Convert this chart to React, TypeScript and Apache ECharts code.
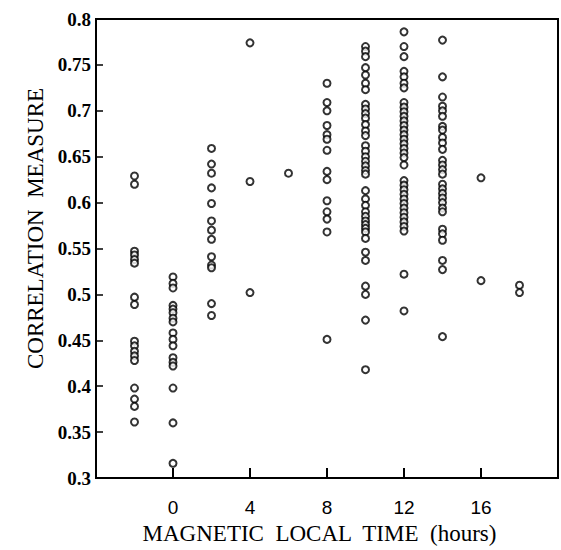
import React, { useEffect, useRef } from "react";
import * as echarts from "echarts";

const xTicks = [0, 4, 8, 12, 16];

const mltM2 = [0.629, 0.62, 0.547, 0.543, 0.538, 0.534, 0.497, 0.489, 0.449, 0.444, 0.438, 0.433, 0.428, 0.398, 0.386, 0.378, 0.361];
const mlt0 = [0.519, 0.512, 0.507, 0.488, 0.484, 0.48, 0.474, 0.47, 0.458, 0.451, 0.444, 0.431, 0.426, 0.422, 0.398, 0.36, 0.316];
const mlt2 = [0.659, 0.642, 0.632, 0.616, 0.599, 0.58, 0.57, 0.56, 0.541, 0.532, 0.529, 0.49, 0.477];
const mlt4 = [0.774, 0.623, 0.502];
const mlt6 = [0.632];
const mlt8 = [0.73, 0.709, 0.7, 0.684, 0.674, 0.669, 0.657, 0.634, 0.625, 0.602, 0.59, 0.582, 0.568, 0.451];
const mlt10 = [0.77, 0.765, 0.759, 0.747, 0.739, 0.73, 0.723, 0.707, 0.702, 0.697, 0.692, 0.685, 0.678, 0.673, 0.662, 0.656, 0.65, 0.645, 0.64, 0.635, 0.631, 0.613, 0.604, 0.597, 0.59, 0.585, 0.58, 0.576, 0.572, 0.568, 0.561, 0.546, 0.537, 0.509, 0.5, 0.472, 0.418];
const mlt12 = [0.786, 0.77, 0.759, 0.743, 0.737, 0.73, 0.725, 0.709, 0.704, 0.699, 0.694, 0.689, 0.684, 0.679, 0.674, 0.669, 0.664, 0.659, 0.654, 0.649, 0.641, 0.624, 0.619, 0.614, 0.609, 0.604, 0.599, 0.594, 0.589, 0.584, 0.579, 0.574, 0.569, 0.522, 0.482];
const mlt14 = [0.777, 0.737, 0.715, 0.705, 0.7, 0.694, 0.683, 0.679, 0.671, 0.665, 0.658, 0.646, 0.641, 0.636, 0.631, 0.62, 0.615, 0.61, 0.605, 0.6, 0.594, 0.59, 0.571, 0.566, 0.559, 0.537, 0.527, 0.454];
const mlt16 = [0.627, 0.515];
const mlt18 = [0.51, 0.502];

const columns: [number, number[]][] = [
  [-2, mltM2],
  [0, mlt0],
  [2, mlt2],
  [4, mlt4],
  [6, mlt6],
  [8, mlt8],
  [10, mlt10],
  [12, mlt12],
  [14, mlt14],
  [16, mlt16],
  [18, mlt18],
];

export default function App() {
  const ref = useRef<HTMLDivElement>(null);
  useEffect(() => {
    if (!ref.current) return;
    const chart = echarts.init(ref.current, undefined, { renderer: "svg" });
    const points: number[][] = [];
    columns.forEach(([x, ys]) => ys.forEach((y) => points.push([x, y])));
    chart.setOption({
      animation: false,
      backgroundColor: "#ffffff",
      grid: {
        left: 96,
        right: 2,
        top: 19,
        bottom: 69,
        show: true,
        borderColor: "#000",
        borderWidth: 2,
      },
      xAxis: {
        type: "value",
        min: -4,
        max: 20,
        interval: 4,
        name: "MAGNETIC  LOCAL  TIME  (hours)",
        nameLocation: "middle",
        nameGap: 44,
        nameTextStyle: {
          fontFamily: "Liberation Serif",
          fontSize: 23,
          color: "#000",
          padding: [0, 15, 0, 0],
        },
        axisLine: { show: true, onZero: false, lineStyle: { color: "#000", width: 2 } },
        axisTick: { show: true, inside: true, length: 10, lineStyle: { color: "#000", width: 2 } },
        splitLine: { show: false },
        axisLabel: {
          margin: 20,
          fontFamily: "Liberation Sans",
          fontSize: 19,
          color: "#000",
          formatter: (v: number) => (xTicks.includes(v) ? String(v) : ""),
        },
      },
      yAxis: {
        type: "value",
        min: 0.3,
        max: 0.8,
        interval: 0.05,
        name: "CORRELATION  MEASURE",
        nameLocation: "middle",
        nameGap: 45,
        nameTextStyle: {
          fontFamily: "Liberation Serif",
          fontSize: 23,
          color: "#000",
          padding: [0, 0, 0, 40],
        },
        axisLine: { show: true, onZero: false, lineStyle: { color: "#000", width: 2 } },
        axisTick: { show: true, inside: true, length: 7, lineStyle: { color: "#000", width: 1.5 } },
        splitLine: { show: false },
        axisLabel: {
          margin: 5,
          fontFamily: "Liberation Serif",
          fontWeight: "bold",
          fontSize: 19,
          color: "#000",
          formatter: (v: number) => String(parseFloat(v.toFixed(2))),
        },
      },
      series: [
        {
          type: "scatter",
          data: points,
          symbol: "circle",
          symbolSize: 7,
          itemStyle: { color: "#fff", borderColor: "#000", borderWidth: 2 },
        },
      ],
    });
    return () => chart.dispose();
  }, []);
  return (
    <div
      ref={ref}
      style={{ position: "absolute", left: 0, top: 0, width: 561, height: 550 }}
    />
  );
}
